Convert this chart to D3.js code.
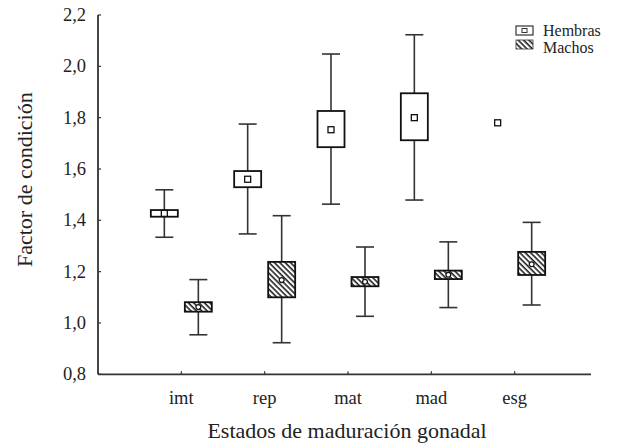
<!DOCTYPE html>
<html>
<head>
<meta charset="utf-8">
<script src="https://cdn.jsdelivr.net/npm/d3@7"></script>
<style>
  body { margin: 0; background: #fff; }
  svg { display: block; }
  text { font-family: "Times New Roman", "Liberation Serif", Tinos, FreeSerif, "DejaVu Serif" !important; }
</style>
</head>
<body>
<svg id="chart" width="618" height="446"></svg>
<script>
// categories and values
const categories = ["imt", "rep", "mat", "mad", "esg"];
const yTicks = [0.8, 1.0, 1.2, 1.4, 1.6, 1.8, 2.0, 2.2];

// Hembras (esg only has a mean point)
const hMean  = [1.427, 1.560, 1.753, 1.800, 1.780];
const hBoxLo = [1.414, 1.529, 1.685, 1.712, null];
const hBoxHi = [1.440, 1.592, 1.826, 1.895, null];
const hMin   = [1.334, 1.347, 1.463, 1.479, null];
const hMax   = [1.519, 1.775, 2.048, 2.123, null];

// Machos
const mMean  = [1.062, 1.167, 1.161, 1.188, 1.229];
const mBoxLo = [1.044, 1.100, 1.143, 1.171, 1.187];
const mBoxHi = [1.081, 1.238, 1.179, 1.204, 1.277];
const mMin   = [0.954, 0.923, 1.026, 1.060, 1.070];
const mMax   = [1.169, 1.418, 1.296, 1.316, 1.392];

const svg = d3.select("#chart");

const LEFT = 98, RIGHT = 591, TOP = 15, BOTTOM = 374.3;
const BOX_W = 27, CAP_W = 18, OFFSET = 17;
const LINE = "#333";

const x = d3.scalePoint().domain(categories).range([LEFT, 598]).padding(1);
const y = d3.scaleLinear().domain([0.8, 2.2]).range([BOTTOM, TOP]);

function label(sel, size) {
  return sel.attr("font-size", size).attr("fill", "#222")
    .attr("font-family", "Times New Roman");
}

// hatch pattern for Machos
const defs = svg.append("defs");
const pat = defs.append("pattern")
  .attr("id", "hatch")
  .attr("patternUnits", "userSpaceOnUse")
  .attr("width", 3.8)
  .attr("height", 3.8)
  .attr("patternTransform", "rotate(45)");
pat.append("rect").attr("width", 3.8).attr("height", 3.8).attr("fill", "#fff");
pat.append("line")
  .attr("x1", 0).attr("y1", 0.8).attr("x2", 3.8).attr("y2", 0.8)
  .attr("stroke", "#111").attr("stroke-width", 1.5);

// y axis labels
const yLabels = yTicks.map(d => d3.format(".1f")(d).replace(".", ","));
svg.selectAll(".ylab").data(yTicks).join("text")
  .attr("class", "ylab")
  .attr("x", 86).attr("y", d => y(d)).attr("dy", "0.33em")
  .attr("text-anchor", "end")
  .text((d, i) => yLabels[i])
  .call(label, 18.5);

svg.selectAll(".ytick").data(yTicks).join("line")
  .attr("class", "ytick")
  .attr("x1", LEFT).attr("x2", LEFT + 3)
  .attr("y1", d => y(d)).attr("y2", d => y(d))
  .attr("stroke", LINE).attr("stroke-width", 1.2);

// x axis labels
svg.selectAll(".xlab").data(categories).join("text")
  .attr("class", "xlab")
  .attr("x", d => x(d)).attr("y", 404)
  .attr("text-anchor", "middle")
  .text(d => d)
  .call(label, 18.5);

svg.selectAll(".xtick").data(categories).join("line")
  .attr("class", "xtick")
  .attr("x1", d => x(d)).attr("x2", d => x(d))
  .attr("y1", BOTTOM).attr("y2", BOTTOM - 3)
  .attr("stroke", LINE).attr("stroke-width", 1.2);

svg.append("line")
  .attr("x1", LEFT).attr("x2", LEFT).attr("y1", TOP).attr("y2", BOTTOM)
  .attr("stroke", LINE).attr("stroke-width", 1.8);
svg.append("line")
  .attr("x1", LEFT).attr("x2", RIGHT).attr("y1", BOTTOM).attr("y2", BOTTOM)
  .attr("stroke", LINE).attr("stroke-width", 1.8);

// axis titles
svg.append("text")
  .attr("transform", `translate(32,${(TOP + BOTTOM) / 2 - 15}) rotate(-90)`)
  .attr("text-anchor", "middle")
  .text("Factor de condición")
  .call(label, 22);

svg.append("text")
  .attr("x", 347).attr("y", 438)
  .attr("text-anchor", "middle")
  .text("Estados de maduración gonadal")
  .call(label, 22);

// box drawing
function drawSeries(cls, dx, mean, lo, hi, mn, mx, fill, marker) {
  const rows = categories.map((c, i) => ({
    c, mean: mean[i], lo: lo[i], hi: hi[i], mn: mn[i], mx: mx[i]
  }));
  const g = svg.append("g").attr("class", cls);
  const full = rows.filter(d => d.lo != null);

  const item = g.selectAll("g.item").data(full).join("g")
    .attr("class", "item")
    .attr("transform", d => `translate(${x(d.c) + dx},0)`);

  item.append("line")
    .attr("x1", 0).attr("x2", 0)
    .attr("y1", d => y(d.mx)).attr("y2", d => y(d.mn))
    .attr("stroke", LINE).attr("stroke-width", 1.6);
  item.append("line")
    .attr("x1", -CAP_W / 2).attr("x2", CAP_W / 2)
    .attr("y1", d => y(d.mx)).attr("y2", d => y(d.mx))
    .attr("stroke", LINE).attr("stroke-width", 1.6);
  item.append("line")
    .attr("x1", -CAP_W / 2).attr("x2", CAP_W / 2)
    .attr("y1", d => y(d.mn)).attr("y2", d => y(d.mn))
    .attr("stroke", LINE).attr("stroke-width", 1.6);
  item.append("rect")
    .attr("x", -BOX_W / 2).attr("width", BOX_W)
    .attr("y", d => y(d.hi)).attr("height", d => y(d.lo) - y(d.hi))
    .attr("fill", fill).attr("stroke", "#111").attr("stroke-width", 1.8);

  const pts = g.selectAll("g.mean").data(rows).join("g")
    .attr("class", "mean")
    .attr("transform", d => `translate(${x(d.c) + dx},${y(d.mean)})`);
  if (marker === "square") {
    pts.append("rect")
      .attr("x", -3).attr("y", -3).attr("width", 6).attr("height", 6)
      .attr("fill", "#fff").attr("stroke", "#111").attr("stroke-width", 1.3);
  } else {
    pts.append("circle")
      .attr("r", 2.4)
      .attr("fill", "#fff").attr("stroke", "#111").attr("stroke-width", 1.3);
  }
}

drawSeries("hembras", -OFFSET, hMean, hBoxLo, hBoxHi, hMin, hMax, "#fff", "square");
drawSeries("machos", OFFSET, mMean, mBoxLo, mBoxHi, mMin, mMax, "url(#hatch)", "circle");

// legend
const legend = svg.append("g").attr("transform", "translate(516,26)");
legend.append("rect")
  .attr("x", 0).attr("y", 0).attr("width", 17).attr("height", 9)
  .attr("fill", "#fff").attr("stroke", "#333").attr("stroke-width", 1.2);
legend.append("rect")
  .attr("x", 6).attr("y", 2.5).attr("width", 5).attr("height", 4)
  .attr("fill", "#fff").attr("stroke", "#333").attr("stroke-width", 1);
legend.append("text")
  .attr("x", 27).attr("y", 10)
  .text("Hembras")
  .call(label, 16);
legend.append("rect")
  .attr("x", 0).attr("y", 14).attr("width", 17).attr("height", 9)
  .attr("fill", "url(#hatch)").attr("stroke", "#333").attr("stroke-width", 0.8);
legend.append("text")
  .attr("x", 27).attr("y", 26.5)
  .text("Machos")
  .call(label, 16);
</script>
</body>
</html>
